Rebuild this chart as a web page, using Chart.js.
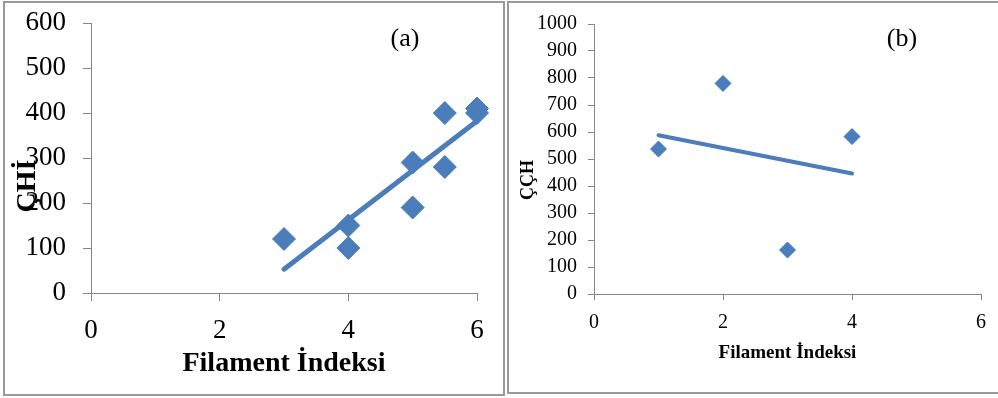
<!DOCTYPE html>
<html>
<head>
<meta charset="utf-8">
<script src="https://cdn.jsdelivr.net/npm/chart.js@4/dist/chart.umd.min.js"></script>
<style>
  html, body { margin: 0; padding: 0; background: #fff; }
  body { width: 998px; height: 398px; position: relative; overflow: hidden; }
  .panel { position: absolute; box-sizing: border-box; border: 2px solid #999; background: #fff; }
  .panel canvas { position: absolute; left: 0; top: 0; }
  #panel-a { left: 3px; top: 1px; width: 502px; height: 395px; }
  #panel-b { left: 507px; top: 1px; width: 495px; height: 393px; }
</style>
</head>
<body>
<div class="panel" id="panel-a"><canvas id="chart-a" width="498" height="391"></canvas></div>
<div class="panel" id="panel-b"><canvas id="chart-b" width="491" height="389"></canvas></div>
<script>
// (a) filament index vs ÇHİ
const filamentA = [3, 4, 4, 5, 5, 5.5, 5.5, 6, 6];
const chiA = [120, 150, 100, 290, 190, 400, 280, 400, 410];
const trendXA = [3, 6];
const trendYA = [53, 382];

// (b) filament index vs ÇÇH
const filamentB = [1, 2, 3, 4];
const cchB = [537, 780, 163, 583];
const trendXB = [1, 4];
const trendYB = [588, 446];

const BLUE = '#4a7dba';
const AXIS = '#868686';
const SERIF = '"Liberation Serif", "Times New Roman", serif';

const toPoints = (xs, ys) => xs.map((x, i) => ({ x: x, y: ys[i] }));

// rotated y title and the (a)/(b) tag, drawn on top of everything
const labelsPlugin = {
    id: 'panelLabels',
    afterDraw(chart, args, opts) {
        const ctx = chart.ctx;
        ctx.save();
        ctx.fillStyle = '#000';
        ctx.textAlign = 'center';
        ctx.textBaseline = 'middle';

        ctx.font = opts.yTitleFont;
        ctx.translate(opts.yTitleX, opts.yTitleY);
        ctx.rotate(-Math.PI / 2);
        ctx.fillText(opts.yTitle, 0, 0);
        ctx.setTransform(1, 0, 0, 1, 0, 0);

        ctx.font = opts.tagFont;
        ctx.fillText(opts.tag, opts.tagX, opts.tagY);
        ctx.restore();
    }
};

function makeChart(canvasId, cfg) {
    const tickFont = { family: SERIF, size: cfg.tickSize };
    return new Chart(document.getElementById(canvasId), {
        type: 'scatter',
        data: {
            datasets: [
                {
                    type: 'line',
                    data: toPoints(cfg.trendX, cfg.trendY),
                    borderColor: BLUE,
                    borderWidth: cfg.lineWidth,
                    borderCapStyle: 'round',
                    pointRadius: 0,
                    fill: false,
                    clip: false
                },
                {
                    data: toPoints(cfg.xs, cfg.ys),
                    pointStyle: 'rectRot',
                    pointRadius: cfg.markerRadius,
                    pointBackgroundColor: BLUE,
                    pointBorderColor: BLUE,
                    pointBorderWidth: 1,
                    clip: false
                }
            ]
        },
        options: {
            responsive: false,
            animation: false,
            devicePixelRatio: 1,
            layout: { padding: cfg.padding },
            plugins: {
                legend: { display: false },
                tooltip: { enabled: false },
                panelLabels: cfg.labels
            },
            scales: {
                x: {
                    type: 'linear',
                    min: 0,
                    max: 6,
                    ticks: { stepSize: 2, autoSkip: false, color: '#000', font: tickFont, padding: cfg.xTickPad, callback: v => String(v) },
                    grid: { drawOnChartArea: false, tickLength: cfg.tickLen, color: AXIS },
                    border: { color: AXIS },
                    title: {
                        display: true,
                        text: 'Filament İndeksi',
                        color: '#000',
                        font: { family: SERIF, size: cfg.xTitleSize, weight: 'bold' },
                        padding: { top: 0, bottom: cfg.xTitlePad }
                    },
                    afterFit: s => {
                        s.height = cfg.xHeight;
                        s.paddingLeft = 0;
                        s.paddingRight = 0;
                    }
                },
                y: {
                    min: 0,
                    max: cfg.yMax,
                    ticks: { stepSize: 100, autoSkip: false, color: '#000', font: tickFont, padding: cfg.yTickPad, callback: v => String(v) },
                    grid: { drawOnChartArea: false, tickLength: cfg.tickLen, color: AXIS },
                    border: { color: AXIS },
                    // fixed width; the layout padding alone sets the plot top
                    afterFit: s => {
                        s.width = cfg.yWidth;
                        s.paddingTop = 0;
                        s.paddingBottom = 0;
                    }
                }
            }
        },
        plugins: [labelsPlugin]
    });
}

makeChart('chart-a', {
    xs: filamentA, ys: chiA, trendX: trendXA, trendY: trendYA,
    yMax: 600, lineWidth: 5, markerRadius: 11.5,
    padding: { left: 0, top: 20, right: 26, bottom: 0 },
    tickSize: 27, tickLen: 8, xTickPad: 14, yTickPad: 17,
    xTitleSize: 28, xTitlePad: 13, xHeight: 101, yWidth: 86,
    labels: {
        yTitle: 'ÇHİ', yTitleFont: 'bold 28px ' + SERIF, yTitleX: 23, yTitleY: 183,
        tag: '(a)', tagFont: '26px ' + SERIF, tagX: 400, tagY: 36
    }
});

makeChart('chart-b', {
    xs: filamentB, ys: cchB, trendX: trendXB, trendY: trendYB,
    yMax: 1000, lineWidth: 4, markerRadius: 8,
    padding: { left: 0, top: 21, right: 19, bottom: 0 },
    tickSize: 20, tickLen: 6, xTickPad: 11, yTickPad: 11,
    xTitleSize: 19, xTitlePad: 28, xHeight: 98, yWidth: 85,
    labels: {
        yTitle: 'ÇÇH', yTitleFont: 'bold 18px ' + SERIF, yTitleX: 19, yTitleY: 177,
        tag: '(b)', tagFont: '26px ' + SERIF, tagX: 393, tagY: 36
    }
});
</script>
</body>
</html>
